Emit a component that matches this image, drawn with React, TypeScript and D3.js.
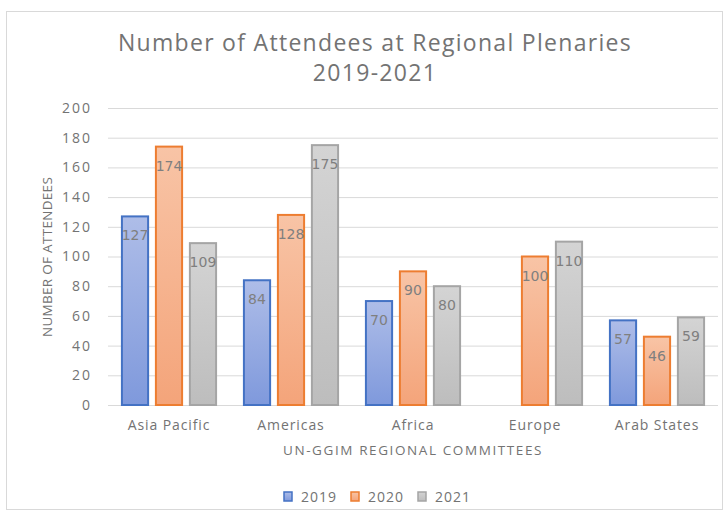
import React, { useEffect, useRef } from 'react';
import * as d3 from 'd3';

// chart data
const categories = ['Asia Pacific', 'Americas', 'Africa', 'Europe', 'Arab States'];
const years = ['2019', '2020', '2021'];
const values2019 = [127, 84, 70, null, 57];
const values2020 = [174, 128, 90, 100, 46];
const values2021 = [109, 175, 80, 110, 59];
const yTicks = [0, 20, 40, 60, 80, 100, 120, 140, 160, 180, 200];

const strokes = ['#4472c4', '#ed7d31', '#a5a5a5'];
const gradTop = ['#aebde8', '#f8c4a6', '#d4d4d4'];
const gradBottom = ['#7f99dc', '#f4a47a', '#bdbdbd'];

const W = 727, H = 515;

export default function App() {
  const ref = useRef<SVGSVGElement>(null);

  useEffect(() => {
    const svg = d3.select(ref.current);
    svg.selectAll('*').remove();

    const series = [values2019, values2020, values2021];
    const font = "'Open Sans', 'Noto Sans', sans-serif";
    const txt = '#737373';

    // gradients
    const defs = svg.append('defs');
    years.forEach((yr, i) => {
      const g = defs.append('linearGradient').attr('id', 'g' + i)
        .attr('x1', 0).attr('y1', 0).attr('x2', 0).attr('y2', 1);
      g.append('stop').attr('offset', '0%').attr('stop-color', gradTop[i]);
      g.append('stop').attr('offset', '100%').attr('stop-color', gradBottom[i]);
    });

    svg.append('rect').attr('width', W).attr('height', H).attr('fill', '#fff');
    // chart border
    svg.append('rect').attr('x', 6.5).attr('y', 11.5).attr('width', 716).attr('height', 498)
      .attr('fill', 'none').attr('stroke', '#d9d9d9');

    const m = { left: 108, right: 718, top: 108, bottom: 405 };

    const x = d3.scaleBand().domain(categories).range([m.left, m.right]).paddingInner(0.22).paddingOuter(0.11);
    const xs = d3.scaleBand().domain(years).range([0, x.bandwidth()]).paddingInner(0.2);
    const y = d3.scaleLinear().domain([0, 200]).range([m.bottom, m.top]);

    // gridlines
    svg.append('g').selectAll('line').data(yTicks).join('line')
      .attr('x1', m.left).attr('x2', m.right)
      .attr('y1', d => y(d) + 0.5).attr('y2', d => y(d) + 0.5)
      .attr('stroke', '#d9d9d9').attr('stroke-width', 1);

    // y tick labels
    svg.append('g').selectAll('text').data(yTicks).join('text')
      .attr('x', 92).attr('y', d => y(d)).attr('dy', '0.35em')
      .attr('text-anchor', 'end').attr('font-family', font).attr('font-size', 14)
      .attr('letter-spacing', 2).attr('fill', txt).text(d => d);

    // bars
    series.forEach((vals, si) => {
      const g = svg.append('g');
      const data = categories.map((c, i) => ({ c, v: vals[i] })).filter(d => d.v != null) as { c: string; v: number }[];
      g.selectAll('rect').data(data).join('rect')
        .attr('x', d => x(d.c)! + xs(years[si])! + 0.5)
        .attr('y', d => y(d.v))
        .attr('width', xs.bandwidth() - 1)
        .attr('height', d => y(0) - y(d.v))
        .attr('fill', `url(#g${si})`)
        .attr('stroke', strokes[si]).attr('stroke-width', 2);
      g.selectAll('text').data(data).join('text')
        .attr('x', d => x(d.c)! + xs(years[si])! + xs.bandwidth() / 2)
        .attr('y', d => y(d.v) + 24)
        .attr('text-anchor', 'middle').attr('font-family', "'DejaVu Sans', sans-serif").attr('font-size', 14)
        .attr('fill', '#7f7f7f').text(d => d.v);
    });

    // category labels
    svg.append('g').selectAll('text').data(categories).join('text')
      .attr('x', d => x(d)! + x.bandwidth() / 2).attr('y', 430)
      .attr('text-anchor', 'middle').attr('font-family', font).attr('font-size', 14)
      .attr('letter-spacing', 0.9).attr('fill', txt).text(d => d);

    // axis titles
    svg.append('text').attr('x', 413).attr('y', 455).attr('text-anchor', 'middle')
      .attr('font-family', font).attr('font-size', 13.5).attr('letter-spacing', 1.6).attr('fill', txt)
      .text('UN-GGIM REGIONAL COMMITTEES');
    svg.append('text').attr('transform', 'translate(52,257) rotate(-90)').attr('text-anchor', 'middle')
      .attr('font-family', font).attr('font-size', 13.5).attr('letter-spacing', 0.3).attr('fill', txt)
      .text('NUMBER OF ATTENDEES');

    // title
    const t = svg.append('text').attr('text-anchor', 'middle').attr('font-family', font)
      .attr('font-size', 23).attr('letter-spacing', 1.3).attr('fill', txt);
    t.append('tspan').attr('x', 375).attr('y', 51).text('Number of Attendees at Regional Plenaries');
    t.append('tspan').attr('x', 375).attr('y', 81).text('2019-2021');

    // legend
    const lg = svg.append('g');
    const lx = [284, 351, 418];
    years.forEach((yr, i) => {
      lg.append('rect').attr('x', lx[i]).attr('y', 492).attr('width', 8).attr('height', 9)
        .attr('fill', `url(#g${i})`).attr('stroke', strokes[i]).attr('stroke-width', 1.5);
      lg.append('text').attr('x', lx[i] + 17).attr('y', 497).attr('dy', '0.35em')
        .attr('font-family', font).attr('font-size', 14).attr('letter-spacing', 1).attr('fill', txt).text(yr);
    });
  }, []);

  return (
    <svg ref={ref} width={W} height={H} style={{ position: 'absolute', left: 0, top: 0 }} />
  );
}
